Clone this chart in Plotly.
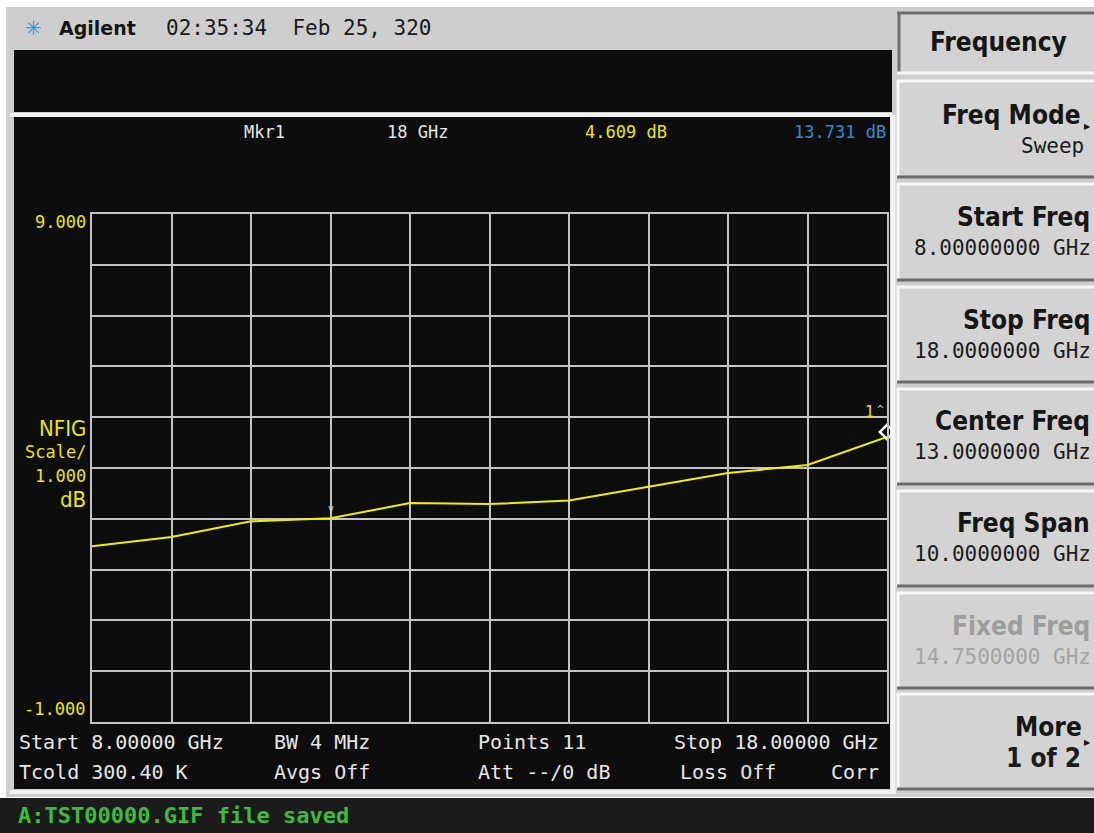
import plotly.graph_objects as go

# ---------------- data ----------------
freq_ghz = [8, 9, 10, 11, 12, 13, 14, 15, 16, 17, 18]
nf_db = [2.46, 2.64, 2.95, 3.01, 3.31, 3.29, 3.36, 3.63, 3.90, 4.06, 4.609]
marker_freq = 18
marker_nf = 4.609
marker_gain = 13.731
y_top_label = "9.000"
y_bottom_label = "-1.000"
y_scale_lines = ["NFIG", "Scale/", "1.000", "dB"]
x_range = [8, 18]
y_range = [-1, 9]

header_time = "02:35:34  Feb 25, 320"
status_text = "A:TST00000.GIF file saved"
info_row1 = ["Start 8.00000 GHz", "BW 4 MHz", "Points 11", "Stop 18.00000 GHz"]
info_row2 = ["Tcold 300.40 K", "Avgs Off", "Att --/0 dB", "Loss Off", "Corr"]
softkey_titles = ["Freq Mode", "Start Freq", "Stop Freq", "Center Freq", "Freq Span", "Fixed Freq", "More"]
softkey_values = ["Sweep", "8.00000000 GHz", "18.0000000 GHz", "13.0000000 GHz", "10.0000000 GHz", "14.7500000 GHz", "1 of 2"]

# ---------------- geometry helpers ----------------
W, H = 1094, 833
def px(x):
    return x / W
def py(y):
    return 1 - y / H

MONO = "DejaVu Sans Mono"
SANSB = "Liberation Sans Narrow, DejaVu Sans Condensed, DejaVu Sans"
YEL = "#e9e900"
WHT = "#e6e6e6"
BLUE = "#2a8cd4"
GRID = "#c4c4c4"

shapes = []
def rect(x0, y0, x1, y1, color):
    shapes.append(dict(type="rect", xref="paper", yref="paper", x0=px(x0), x1=px(x1),
                       y0=py(y1), y1=py(y0), fillcolor=color, layer="below",
                       line=dict(width=0)))

def hline(x0, x1, y, color, w):
    shapes.append(dict(type="line", xref="paper", yref="paper", x0=px(x0), x1=px(x1),
                       y0=py(y), y1=py(y), line=dict(color=color, width=w), layer="below"))

def vline(x, y0, y1, color, w):
    shapes.append(dict(type="line", xref="paper", yref="paper", x0=px(x), x1=px(x),
                       y0=py(y0), y1=py(y1), line=dict(color=color, width=w), layer="below"))

# background frame
rect(6, 7, W, 797, "#cecece")
# message box (black)
rect(14, 50, 892, 112, "#0d0d0d")
hline(10, 893, 115, "#f4f4f4", 4)
# main display
rect(14, 117, 890, 789, "#0d0d0d")
vline(893, 115, 793, "#f4f4f4", 5)
hline(10, 896, 792, "#f2f2f2", 4)
# status bar
rect(0, 798, W, H, "#1b1b1b")

# softkey title box
rect(897, 12, W + 5, 72, "#d2d2d2")
vline(899, 12, 72, "#6e6e6e", 3)
hline(897, W, 13, "#6e6e6e", 3)
hline(897, W, 73, "#f6f6f6", 3)
# softkey buttons
btn_rows = [(80, 178), (183, 281), (286, 383), (388, 485), (490, 587), (592, 689), (693, 790)]
for (a, b) in btn_rows:
    rect(897, a, W + 5, b, "#d3d3d3")
    hline(897, W, a + 1, "#f8f8f8", 3)
    vline(898, a, b, "#f8f8f8", 3)
    hline(897, W, b - 1, "#6c6c6c", 3)

annotations = []
def txt(x, y, s, size, color, family=MONO, anchor="left", bold=False):
    if bold:
        s = "<b>" + s + "</b>"
    annotations.append(dict(x=px(x), y=py(y), xref="paper", yref="paper", text=s,
                            showarrow=False, xanchor=anchor, yanchor="middle",
                            font=dict(size=size, color=color, family=family)))

# header
txt(33, 28, "✳", 20, "#3a8fd8", family="DejaVu Sans", anchor="center")
txt(57, 28, "Agilent", 19, "#151515", family="DejaVu Sans", bold=True)
txt(164, 28, header_time, 21, "#1a1a1a")

# marker readout line
txt(242, 132, "Mkr1", 17, WHT)
txt(385, 132, f"{marker_freq} GHz", 17, WHT)
txt(583, 132, f"{marker_nf:.3f} dB", 17, YEL)
txt(888, 132, f"{marker_gain:.3f} dB", 17, BLUE, anchor="right")

# y axis labels
txt(88, 222, y_top_label, 17, YEL, anchor="right")
txt(87, 709, y_bottom_label, 17, YEL, anchor="right")
scale_y = [428, 452, 476, 499]
scale_size = [22, 17, 17, 22]
scale_fam = ["DejaVu Sans Condensed, DejaVu Sans", MONO, MONO, "DejaVu Sans Condensed, DejaVu Sans"]
for s, yy, sz, fam in zip(y_scale_lines, scale_y, scale_size, scale_fam):
    txt(88, yy, s, sz, YEL, family=fam, anchor="right")

# info rows
row1_x = [17, 272, 476, 881]
for s, xx in zip(info_row1, row1_x):
    txt(xx, 742, s, 20, WHT, anchor="right" if xx > 800 else "left")
row2_x = [17, 272, 476, 678, 881]
for s, xx in zip(info_row2, row2_x):
    txt(xx, 772, s, 20, WHT, anchor="right" if xx > 800 else "left")

# status
txt(16, 815, status_text, 22, "#3dbb3d", bold=True)

# softkeys
txt(928, 42, "Frequency", 26, "#161616", family=SANSB, bold=True)
title_y = [115, 217, 320, 421, 523, 626, 727]
title_x = [1083, 1092, 1092, 1092, 1092, 1092, 1084]
for i, (s, yy, xx) in enumerate(zip(softkey_titles, title_y, title_x)):
    col = "#9d9d9d" if s == "Fixed Freq" else "#161616"
    txt(xx, yy, s, 26, col, family=SANSB, anchor="right", bold=True)
val_x = [1086, 1093, 1093, 1093, 1093, 1093, 1083]
for i, (s, yy, xx) in enumerate(zip(softkey_values, title_y, val_x)):
    col = "#a3a3a3" if i == 5 else "#1c1c1c"
    if i == 6:
        txt(xx, yy + 31, s, 26, col, family=SANSB, anchor="right", bold=True)
    else:
        txt(xx, yy + 31, s, 21, col, anchor="right")
txt(1093, 127, "▶", 8, "#161616", family="DejaVu Sans", anchor="right")
txt(1093, 742, "▶", 8, "#161616", family="DejaVu Sans", anchor="right")

# ---------------- traces ----------------
fig = go.Figure()
fig.add_trace(go.Scatter(x=freq_ghz, y=nf_db, mode="lines",
                         line=dict(color="#f0f000", width=2), hoverinfo="skip",
                         showlegend=False, cliponaxis=False))
fig.add_trace(go.Scatter(x=[marker_freq], y=[marker_nf + 0.1], mode="markers",
                         marker=dict(symbol="diamond-open", size=11, color="white",
                                     line=dict(color="white", width=2.5)),
                         hoverinfo="skip", showlegend=False, cliponaxis=False))
# marker labels (data coords)
annotations.append(dict(x=17.78, y=marker_nf + 0.5, xref="x", yref="y", text="1",
                        showarrow=False, font=dict(size=15, color=YEL, family=MONO)))
annotations.append(dict(x=17.92, y=marker_nf + 0.55, xref="x", yref="y", text="^",
                        showarrow=False, font=dict(size=11, color="#cfcfcf", family=MONO)))
annotations.append(dict(x=11, y=nf_db[3] + 0.2, xref="x", yref="y", text="v",
                        showarrow=False, font=dict(size=10, color="#d8d8d8", family=MONO)))

x0p, x1p = 92, 887
y0p, y1p = 214, 722
fig.update_layout(
    width=W, height=H,
    margin=dict(l=0, r=0, t=0, b=0),
    paper_bgcolor="#ffffff",
    plot_bgcolor="rgba(0,0,0,0)",
    shapes=shapes,
    annotations=annotations,
    xaxis=dict(domain=[px(x0p), px(x1p)], range=x_range, dtick=1, tick0=8,
               showgrid=True, gridcolor=GRID, gridwidth=2, zeroline=False,
               showticklabels=False, ticks="", showline=True, linecolor=GRID,
               linewidth=2, mirror=True, fixedrange=True),
    yaxis=dict(domain=[py(y1p), py(y0p)], range=y_range, dtick=1, tick0=-1,
               showgrid=True, gridcolor=GRID, gridwidth=2, zeroline=False,
               showticklabels=False, ticks="", showline=True, linecolor=GRID,
               linewidth=2, mirror=True, fixedrange=True),
    showlegend=False,
)

fig.write_html("out.html", config={"displayModeBar": False},
               post_script="document.body.style.margin='0';document.body.style.overflow='hidden';")
